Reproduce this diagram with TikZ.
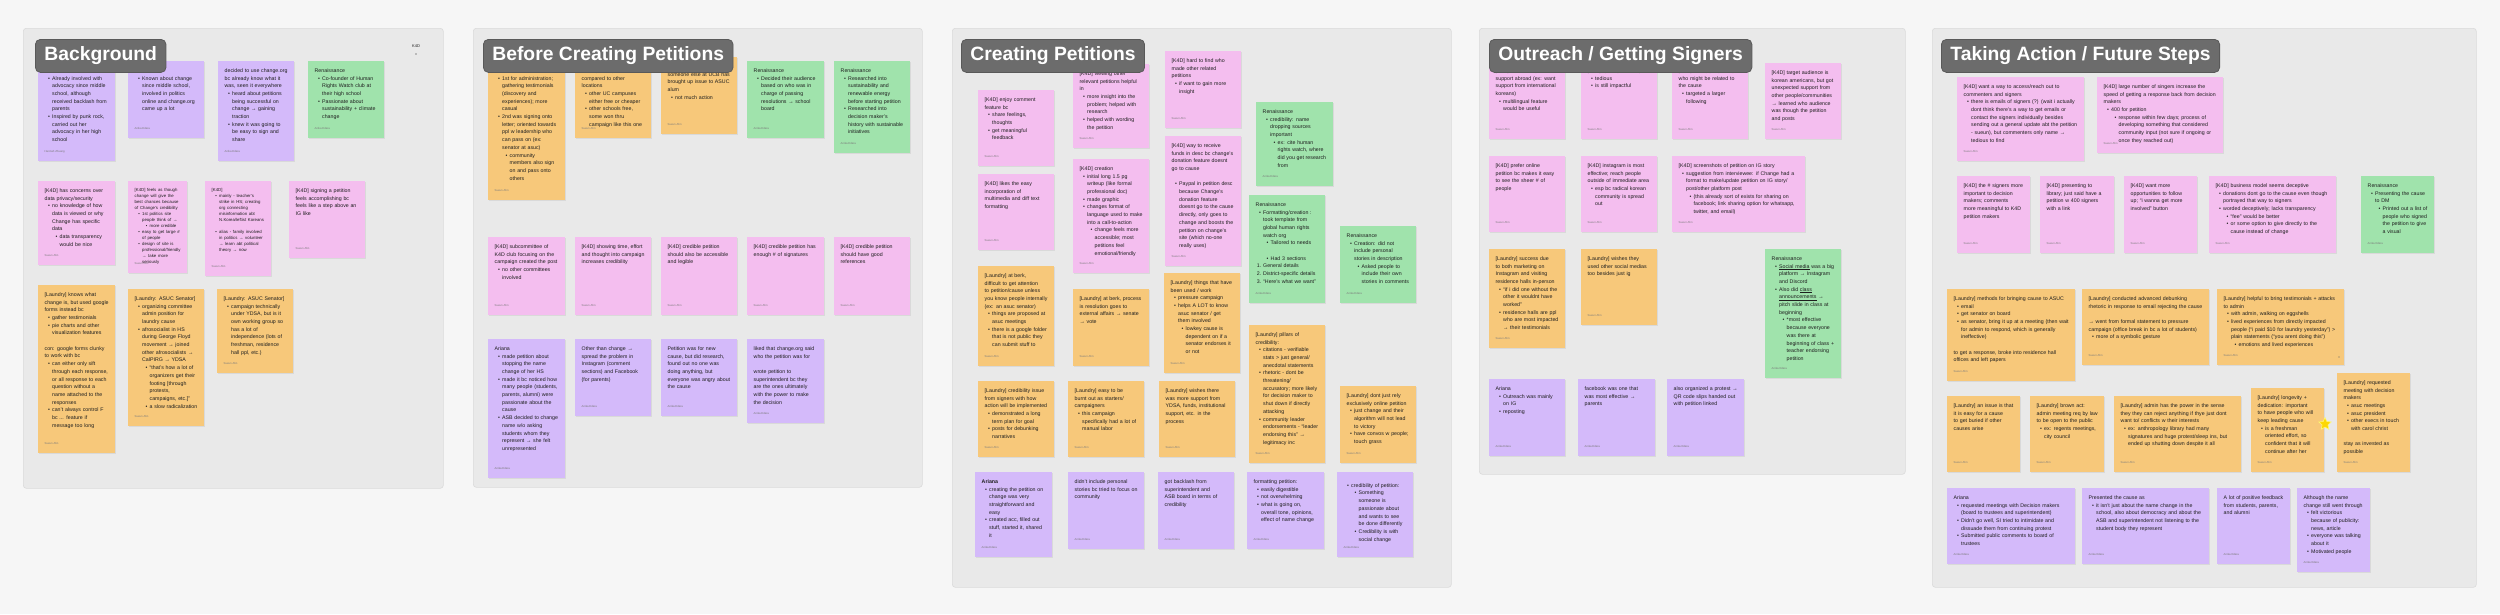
\documentclass[tikz,border=0pt]{standalone}
\usepackage{fontspec}
\setmainfont{Liberation Sans}
\usepackage{enumitem}
\usetikzlibrary{shadows,shapes.geometric}
\setlist{nosep}
\setlist[itemize]{leftmargin=7.5pt,labelsep=2.2pt,label=\textbullet}
\setlist[enumerate]{leftmargin=7.5pt,labelsep=2pt,label=\arabic*.}
\hyphenpenalty=10000 \exhyphenpenalty=10000
\definecolor{pagebg}{HTML}{F6F6F6}
\definecolor{panelfill}{HTML}{E9E9E9}
\definecolor{panelline}{HTML}{DADADA}
\definecolor{badgefill}{HTML}{6C6C6C}
\definecolor{badgeline}{HTML}{595959}
\definecolor{pinkn}{HTML}{F4BEEF}
\definecolor{purplen}{HTML}{D4BAFA}
\definecolor{greenn}{HTML}{A0E3AC}
\definecolor{orangen}{HTML}{F7C87A}
\definecolor{textc}{HTML}{1E1E1E}
\definecolor{authc}{HTML}{7A7A7A}
\newcommand{\nlgap}{\par\vspace{\baselineskip}}
\newcommand{\stick}[8]{%
  \pgfmathsetmacro{\stw}{#4-13}%
  \node[sticky,#6,minimum width=#4pt,minimum height=#5pt,anchor=north west] (#1) at (#2,#3) {};
  \node[stxt,anchor=north west,text width=\stw pt] (#1t) at ([xshift=6.5pt,yshift=-7.3pt]#1.north west) {#7};
  \node[auth,anchor=west] (#1a) at ([xshift=6.5pt,yshift=10pt]#1.south west) {#8};
}
\tikzset{
 panel/.style={draw=panelline, fill=panelfill, rounded corners=3pt, line width=0.6pt, inner sep=0pt, anchor=north west},
 badge/.style={fill=badgefill, draw=badgeline, line width=0.8pt, rounded corners=5pt, text=white, font=\fontsize{19.3}{22}\selectfont\bfseries, inner xsep=9pt, inner ysep=0pt, minimum height=33pt, anchor=north west},
 sticky/.style={inner sep=0pt, drop shadow={shadow xshift=0.3pt, shadow yshift=-0.9pt, opacity=0.15}},
 pk/.style={fill=pinkn}, pu/.style={fill=purplen}, gr/.style={fill=greenn}, og/.style={fill=orangen},
 stxt/.style={inner sep=0pt, align=left, text=textc, font=\fontsize{5.25}{7.7}\selectfont},
 auth/.style={inner sep=0pt, text=authc, font=\fontsize{2.8}{3.2}\selectfont},
}
\newcommand{\smallt}{\fontsize{4.3}{6}\selectfont}
\begin{document}
\begin{tikzpicture}[x=1pt,y=-1pt]
\fill[pagebg] (0,0) rectangle (2500,614);
\useasboundingbox (0,0) rectangle (2500,614);
% panels
\node[panel,minimum width=420pt,minimum height=460pt] (p1) at (23,28) {};
\node[panel,minimum width=449pt,minimum height=459pt] (p2) at (473,28) {};
\node[panel,minimum width=499pt,minimum height=559pt] (p3) at (952,28) {};
\node[panel,minimum width=426pt,minimum height=446pt] (p4) at (1479,28) {};
\node[panel,minimum width=544pt,minimum height=559pt] (p5) at (1932,28) {};
%%%%%%%%%%%%%%%% Background
\stick{n1}{38}{61}{77}{100}{pu}{Ariana
\begin{itemize}
\item Already involved with advocacy since middle school, although received backlash from parents
\item Inspired by punk rock, carried out her advocacy in her high school
\end{itemize}}{Hannah Zhuang}
\stick{n2}{128}{61}{76}{77}{pu}{Ariana
\begin{itemize}
\item Known about change since middle school, involved in politics online and change.org came up a lot
\end{itemize}}{Anika Edara}
\stick{n3}{218}{61}{76}{100}{pu}{decided to use change.org bc already know what it was, seen it everywhere
\begin{itemize}
\item heard about petitions being successful on change → gaining traction
\item knew it was going to be easy to sign and share
\end{itemize}}{Anika Edara}
\stick{n4}{308}{61}{76}{77}{gr}{Renaissance
\begin{itemize}
\item Co-founder of Human Rights Watch club at their high school
\item Passionate about sustainability + climate change
\end{itemize}}{Anika Edara}
\stick{n5}{38}{181}{77}{84}{pk}{[K4D] has concerns over data privacy/security
\begin{itemize}
\item no knowledge of how data is viewed or why Change has specific data
\begin{itemize}
\item data transparency would be nice
\end{itemize}
\end{itemize}}{Sueun Ahn}
\stick{n6}{128}{181}{59}{92}{pk}{\smallt [K4D] feels as though change will give the best chances because of Change's credibility
\begin{itemize}
\item 1st politics site people think of →
\begin{itemize}
\item more credible
\end{itemize}
\item easy to get large \# of people
\item design of site is professional/friendly → take more seriously
\end{itemize}}{Sueun Ahn}
\stick{n7}{205}{181}{66}{95}{pk}{\smallt [K4D]
\begin{itemize}
\item mainly - teacher's strike in HS; creating org connecting misinformation abt N.Korea/leftist Koreans
\end{itemize}
\vspace{6pt}
\begin{itemize}
\item alias - family involved in politics → volunteer → learn abt political theory → now
\end{itemize}}{Sueun Ahn}
\stick{n8}{289}{181}{76}{77}{pk}{[K4D] signing a petition feels accomplishing bc feels like a step above an IG like}{Sueun Ahn}
\stick{n9}{38}{285}{77}{168}{og}{[Laundry] knows what change is, but used google forms instead bc
\begin{itemize}
\item gather testimonials
\item pie charts and other visualization features
\end{itemize}
\nlgap
con: google forms clunky to work with bc
\begin{itemize}
\item can either only sift through each response, or all response to each question without a name attached to the responses
\item can't always control F bc ... feature if message too long
\end{itemize}}{Sueun Ahn}
\stick{n10}{128}{289}{76}{137}{og}{[Laundry: ASUC Senator]
\begin{itemize}
\item organizing committee admin position for laundry cause
\item afrosocialist in HS during George Floyd movement → joined other afrosocialists → CalPIRG → YDSA
\begin{itemize}
\item “that's how a lot of organizers get their footing [through protests, campaigns, etc.]”
\item a slow radicalization
\end{itemize}
\end{itemize}}{Sueun Ahn}
\stick{n11}{217}{289}{76}{84}{og}{[Laundry: ASUC Senator]
\begin{itemize}
\item campaign technically under YDSA, but is it own working group so has a lot of independence (lots of freshman, residence hall ppl, etc.)
\end{itemize}}{Sueun Ahn}
\node[inner sep=0pt,font=\fontsize{4}{5}\selectfont,text=textc] (k4d) at (416,46) {K4D};
\node[circle,fill=textc,inner sep=0pt,minimum size=1.3pt] (k4ddot) at (416,54) {};
%%%%%%%%%%%%%%%% Before
\stick{b1}{488}{61}{77}{139}{og}{issue to
\begin{itemize}
\item 1st for administration; gathering testimonials (discovery and experiences); more casual
\item 2nd was signing onto letter; oriented towards ppl w leadership who can pass on (ex: senator at asuc)
\begin{itemize}
\item community members also sign on and pass onto others
\end{itemize}
\end{itemize}}{Sueun Ahn}
\stick{b2}{575}{61}{76}{77}{og}{laundry is expensive compared to other locations
\begin{itemize}
\item other UC campuses either free or cheaper
\item other schools free, some won thru campaign like this one
\end{itemize}}{Sueun Ahn}
\stick{b3}{661}{57}{76}{77}{og}{[Laundry]\\someone else at UCB has brought up issue to ASUC alum
\begin{itemize}
\item not much action
\end{itemize}}{Sueun Ahn}
\stick{b4}{747}{61}{77}{77}{gr}{Renaissance
\begin{itemize}
\item Decided their audience based on who was in charge of passing resolutions → school board
\end{itemize}}{Anika Edara}
\stick{b5}{834}{61}{76}{92}{gr}{Renaissance
\begin{itemize}
\item Researched into sustainability and renewable energy before starting petition
\item Researched into decision maker's history with sustainable initiatives
\end{itemize}}{Anika Edara}
\stick{b6}{488}{237}{77}{78}{pk}{[K4D] subcommittee of K4D club focusing on the campaign created the post
\begin{itemize}
\item no other committees involved
\end{itemize}}{Sueun Ahn}
\stick{b7}{575}{237}{76}{78}{pk}{[K4D] showing time, effort and thought into campaign increases credibility}{Sueun Ahn}
\stick{b8}{661}{237}{76}{78}{pk}{[K4D] credible petition should also be accessible and legible}{Sueun Ahn}
\stick{b9}{747}{237}{77}{78}{pk}{[K4D] credible petition has enough \# of signatures}{Sueun Ahn}
\stick{b10}{834}{237}{76}{78}{pk}{[K4D] credible petition should have good references}{Sueun Ahn}
\stick{b11}{488}{339}{77}{139}{pu}{Ariana
\begin{itemize}
\item made petition about stopping the name change of her HS
\item made it bc noticed how many people (students, parents, alumni) were passionate about the cause
\item ASB decided to change name w/o asking students whom they represent → she felt unrepresented
\end{itemize}}{Anika Edara}
\stick{b12}{575}{339}{76}{77}{pu}{Other than change → spread the problem in Instagram (comment sections) and Facebook (for parents)}{Anika Edara}
\stick{b13}{661}{339}{76}{77}{pu}{Petition was for new cause, but did research, found out no one was doing anything, but everyone was angry about the cause}{Anika Edara}
\stick{b14}{747}{339}{77}{84}{pu}{liked that change.org said who the petition was for
\nlgap
wrote petition to superintendent bc they are the ones ultimately with the power to make the decision}{Anika Edara}
%%%%%%%%%%%%%%%% Creating
\stick{c1}{978}{90}{76}{76}{pk}{[K4D] enjoy comment feature bc
\begin{itemize}
\item share feelings, thoughts
\item get meaningful feedback
\end{itemize}}{Sueun Ahn}
\stick{c2}{978}{174}{76}{76}{pk}{[K4D] likes the easy incorporation of multimedia and diff text formatting}{Sueun Ahn}
\stick{c3}{1073}{64}{76}{84}{pk}{[K4D] viewing other relevant petitions helpful in
\begin{itemize}
\item more insight into the problem; helped with research
\item helped with wording the petition
\end{itemize}}{Sueun Ahn}
\stick{c4}{1073}{159}{76}{114}{pk}{[K4D] creation
\begin{itemize}
\item initial long 1.5 pg writeup (like formal professional doc)
\item made graphic
\item changes format of language used to make into a call-to-action
\begin{itemize}
\item change feels more accessible; most petitions feel emotional/friendly
\end{itemize}
\end{itemize}}{Sueun Ahn}
\stick{c5}{1165}{51}{76}{77}{pk}{[K4D] hard to find who made other related petitions
\begin{itemize}
\item if want to gain more insight
\end{itemize}}{Sueun Ahn}
\stick{c6}{1165}{136}{76}{130}{pk}{[K4D] way to receive funds in desc bc change's donation feature doesnt go to cause
\nlgap
\begin{itemize}
\item Paypal in petition desc because Change's donation feature doesnt go to the cause directly, only goes to change and boosts the petition on change's site (which no-one really uses)
\end{itemize}}{Sueun Ahn}
\stick{c7}{1256}{102}{77}{84}{gr}{Renaissance
\begin{itemize}
\item credibility: name dropping sources important
\begin{itemize}
\item ex: cite human rights watch, where did you get research from
\end{itemize}
\end{itemize}}{Anika Edara}
\stick{c8}{1249}{195}{76}{108}{gr}{Renaissance
\begin{itemize}
\item Formatting/creation : took template from global human rights watch org
\begin{itemize}
\item Tailored to needs
\end{itemize}
\end{itemize}
\nlgap
\begin{itemize}[leftmargin=15pt]
\item Had 3 sections
\end{itemize}
\begin{enumerate}
\item General details
\item District-specific details
\item “Here's what we want”
\end{enumerate}}{Anika Edara}
\stick{c9}{1340}{226}{76}{77}{gr}{Renaissance
\begin{itemize}
\item Creation: did not include personal stories in description
\begin{itemize}
\item Asked people to include their own stories in comments
\end{itemize}
\end{itemize}}{Anika Edara}
\stick{c10}{978}{266}{76}{100}{og}{[Laundry] at berk, difficult to get attention to petition/cause unless you know people internally (ex: an asuc senator)
\begin{itemize}
\item things are proposed at asuc meetings
\item there is a google folder that is not public they can submit stuff to
\end{itemize}}{Sueun Ahn}
\stick{c11}{1073}{289}{76}{77}{og}{[Laundry] at berk, process is resolution goes to external affairs → senate → vote}{Sueun Ahn}
\stick{c12}{1164}{273}{76}{100}{og}{[Laundry] things that have been used / work
\begin{itemize}
\item pressure campaign
\item helps A LOT to know asuc senator / get them involved
\begin{itemize}
\item lowkey cause is dependent on if a senator endorses it or not
\end{itemize}
\end{itemize}}{Sueun Ahn}
\stick{c13}{1249}{325}{76}{138}{og}{[Laundry] pillars of credibility:
\begin{itemize}
\item citations - verifiable stats > just general/ anecdotal statements
\item rhetoric - dont be threatening/ accusatory; more likely for decision maker to shut down if directly attacking
\item community leader endorsements - “leader endorsing this” → legitimacy inc
\end{itemize}}{Sueun Ahn}
\stick{c14}{978}{381}{76}{76}{og}{[Laundry] credibility issue from signers with how action will be implemented
\begin{itemize}
\item demonstrated a long term plan for goal
\item posts for debunking narratives
\end{itemize}}{Sueun Ahn}
\stick{c15}{1068}{381}{76}{76}{og}{[Laundry] easy to be burnt out as starters/ campaigners
\begin{itemize}
\item this campaign specifically had a lot of manual labor
\end{itemize}}{Sueun Ahn}
\stick{c16}{1159}{381}{76}{76}{og}{[Laundry] wishes there was more support from YDSA, funds, institutional support, etc. in the process}{Sueun Ahn}
\stick{c17}{1340}{386}{76}{77}{og}{[Laundry] dont just rely exclusively online petition
\begin{itemize}
\item just change and their algorithm will not lead to victory
\item have convos w people; touch grass
\end{itemize}}{Sueun Ahn}
\stick{c18}{975}{472}{77}{85}{pu}{\textbf{Ariana}
\begin{itemize}
\item creating the petition on change was very straightforward and easy
\item created acc, filled out stuff, started it, shared it
\end{itemize}}{Anika Edara}
\stick{c19}{1068}{472}{76}{77}{pu}{didn't include personal stories bc tried to focus on community}{Anika Edara}
\stick{c20}{1158}{472}{76}{77}{pu}{got backlash from superintendent and ASB board in terms of credibility}{Anika Edara}
\stick{c21}{1247}{472}{77}{77}{pu}{formatting petition:
\begin{itemize}
\item easily digestible
\item not overwhelming
\item what is going on, overall tone, opinions, effect of name change
\end{itemize}}{Anika Edara}
\stick{c22}{1337}{472}{76}{85}{pu}{\begin{itemize}
\item credibility of petition:
\begin{itemize}
\item Something someone is passionate about and wants to see be done differently
\item Credibility is with social change
\end{itemize}
\end{itemize}}{Anika Edara}
%%%%%%%%%%%%%%%% Outreach
\stick{o1}{1489}{61}{76}{78}{pk}{[K4D] difficult to get support abroad (ex: want support from international koreans)
\begin{itemize}
\item multilingual feature would be useful
\end{itemize}}{Sueun Ahn}
\stick{o2}{1581}{61}{76}{78}{pk}{[K4D] flyering on campus
\begin{itemize}
\item tedious
\item is still impactful
\end{itemize}}{Sueun Ahn}
\stick{o3}{1672}{61}{76}{78}{pk}{[K4D] dming people/orgs who might be related to the cause
\begin{itemize}
\item targeted a larger following
\end{itemize}}{Sueun Ahn}
\stick{o4}{1765}{63}{76}{76}{pk}{[K4D] target audience is korean americans, but got unexpected support from other people/communities → learned who audience was though the petition and posts}{Sueun Ahn}
\stick{o5}{1489}{156}{76}{76}{pk}{[K4D] prefer online petition bc makes it easy to see the sheer \# of people}{Sueun Ahn}
\stick{o6}{1581}{156}{76}{76}{pk}{[K4D] instagram is most effective; reach people outside of immediate area
\begin{itemize}
\item esp bc radical korean community is spread out
\end{itemize}}{Sueun Ahn}
\stick{o7}{1672}{156}{133}{76}{pk}{[K4D] screenshots of petition on IG story
\begin{itemize}
\item suggestion from interviewee: if Change had a format to make/update petition on IG story/ post/other platform post
\begin{itemize}
\item (this already sort of exists for sharing on facebook; link sharing option for whatsapp, twitter, and email)
\end{itemize}
\end{itemize}}{Sueun Ahn}
\stick{o8}{1489}{249}{76}{99}{og}{[Laundry] success due to both marketing on Instagram and visiting residence halls in-person
\begin{itemize}
\item “if i did one without the other it wouldnt have worked”
\item residence halls are ppl who are most impacted → their testimonials
\end{itemize}}{Sueun Ahn}
\stick{o9}{1581}{249}{76}{76}{og}{[Laundry] wishes they used other social medias too besides just ig}{Sueun Ahn}
\stick{o10}{1765}{249}{76}{129}{gr}{Renaissance
\begin{itemize}
\item \underline{Social media} was a big platform → Instagram and Discord
\item Also did \underline{class} \underline{announcements} → pitch slide in class at beginning
\begin{itemize}
\item *most effective because everyone was there at beginning of class + teacher endorsing petition
\end{itemize}
\end{itemize}}{Anika Edara}
\stick{o11}{1489}{379}{76}{77}{pu}{Ariana
\begin{itemize}
\item Outreach was mainly on IG
\item reposting
\end{itemize}}{Anika Edara}
\stick{o12}{1578}{379}{77}{77}{pu}{facebook was one that was most effective → parents}{Anika Edara}
\stick{o13}{1667}{379}{77}{77}{pu}{also organized a protest → QR code slips handed out with petition linked}{Anika Edara}
%%%%%%%%%%%%%%%% Taking action
\stick{t1}{1957}{77}{127}{84}{pk}{[K4D] want a way to access/reach out to commenters and signers
\begin{itemize}
\item there is emails of signers (?) (wait i actually dont think there's a way to get emails or contact the signers individually besides sending out a general update abt the petition - sueun), but commenters only name → tedious to find
\end{itemize}}{Sueun Ahn}
\stick{t2}{2097}{77}{126}{76}{pk}{[K4D] large number of singers increase the speed of getting a response back from decision makers
\begin{itemize}
\item 400 for petition
\begin{itemize}
\item response within few days; process of developing something that considered community input (not sure if ongoing or once they reached out)
\end{itemize}
\end{itemize}}{Sueun Ahn}
\stick{t3}{1957}{176}{73}{77}{pk}{[K4D] the \# signers more important to decision makers; comments more meaningful to K4D petition makers}{Sueun Ahn}
\stick{t4}{2040}{176}{74}{77}{pk}{[K4D] presenting to library; just said have a petition w 400 signers with a link}{Sueun Ahn}
\stick{t5}{2124}{176}{73}{77}{pk}{[K4D] want more opportunities to follow up; “i wanna get more involved” button}{Sueun Ahn}
\stick{t6}{2209}{176}{127}{77}{pk}{[K4D] business model seems deceptive
\begin{itemize}
\item donations dont go to the cause even though portrayed that way to signers
\item worded deceptively; lacks transparency
\begin{itemize}
\item “fee” would be better
\item or some option to give directly to the cause instead of change
\end{itemize}
\end{itemize}}{Sueun Ahn}
\stick{t7}{2361}{176}{73}{77}{gr}{Renaissance
\begin{itemize}
\item Presenting the cause to DM
\begin{itemize}
\item Printed out a list of people who signed the petition to give a visual
\end{itemize}
\end{itemize}}{Anika Edara}
\stick{t8}{1947}{289}{128}{92}{og}{[Laundry] methods for bringing cause to ASUC
\begin{itemize}
\item email
\item get senator on board
\item as senator, bring it up at a meeting (then wait for admin to respond, which is generally ineffective)
\end{itemize}
\nlgap
to get a response, broke into residence hall offices and left papers}{Sueun Ahn}
\stick{t9}{2082}{289}{127}{76}{og}{[Laundry] conducted advanced debunking rhetoric in response to email rejecting the cause
\nlgap
→ went from formal statement to pressure campaign (office break in bc a lot of students)
\begin{itemize}
\item more of a symbolic gesture
\end{itemize}}{Sueun Ahn}
\stick{t10}{2217}{289}{127}{76}{og}{[Laundry] helpful to bring testimonials + attacks to admin
\begin{itemize}
\item with admin, walking on eggshells
\item lived experiences from directly impacted people (“i paid \$10 for laundry yesterday”) > plain statements (“you arent doing this”)
\begin{itemize}
\item emotions and lived experiences
\end{itemize}
\end{itemize}}{Sueun Ahn}
\node[circle,fill=textc!70,inner sep=0pt,minimum size=1.3pt] (t10dot) at (2339,357) {};
\stick{t11}{1947}{396}{73}{76}{og}{[Laundry] an issue is that it is easy for a cause to get buried if other causes arise}{Sueun Ahn}
\stick{t12}{2030}{396}{74}{76}{og}{[Laundry] brown act: admin meeting req by law to be open to the public
\begin{itemize}
\item ex: regents meetings, city council
\end{itemize}}{Sueun Ahn}
\stick{t13}{2114}{396}{127}{76}{og}{[Laundry] admin has the power in the sense they they can reject anything if thye just dont want to/ conflicts w their interests
\begin{itemize}
\item ex: anthropology library had many signatures and huge protest/sleep ins, but ended up shutting down despite it all
\end{itemize}}{Sueun Ahn}
\stick{t14}{2251}{388}{73}{84}{og}{[Laundry] longevity + dedication: important to have people who will keep leading cause
\begin{itemize}
\item is a freshman oriented effort, so confident that it will continue after her
\end{itemize}}{Sueun Ahn}
\stick{t15}{2337}{373}{73}{99}{og}{[Laundry] requested meeting with decision makers
\begin{itemize}
\item asuc meetings
\item asuc president
\item other execs in touch with carol christ
\end{itemize}
\nlgap
stay as invested as possible}{Sueun Ahn}
\node[star,star points=5,star point ratio=2.1,fill=yellow!75!orange,draw=yellow!55,line width=0.6pt,minimum size=13pt,inner sep=0pt] (star) at (2325,424) {};
\stick{t16}{1947}{488}{128}{76}{pu}{Ariana
\begin{itemize}
\item requested meetings with Decision makers (board to trustees and superintendent)
\item Didn't go well, SI tried to intimidate and dissuade them from continuing protest
\item Submitted public comments to board of trustees
\end{itemize}}{Anika Edara}
\stick{t17}{2082}{488}{127}{76}{pu}{Presented the cause as
\begin{itemize}
\item it isn't just about the name change in the school, also about democracy and about the ASB and superintendent not listening to the student body they represent
\end{itemize}}{Anika Edara}
\stick{t18}{2217}{488}{73}{76}{pu}{A lot of positive feedback from students, parents, and alumni}{Anika Edara}
\stick{t19}{2297}{488}{73}{84}{pu}{Although the name change still went through
\begin{itemize}
\item felt victorious because of publicity: news, article
\item everyone was talking about it
\item Motivated people
\end{itemize}}{Anika Edara}
%%%%%%%%%%%%%%%% badges
\node[badge] (h1) at (35,39) {Background};
\node[badge] (h2) at (483,39) {Before Creating Petitions};
\node[badge] (h3) at (961,39) {Creating Petitions};
\node[badge] (h4) at (1489,39) {Outreach / Getting Signers};
\node[badge] (h5) at (1941,39) {Taking Action / Future Steps};
\end{tikzpicture}
\end{document}
